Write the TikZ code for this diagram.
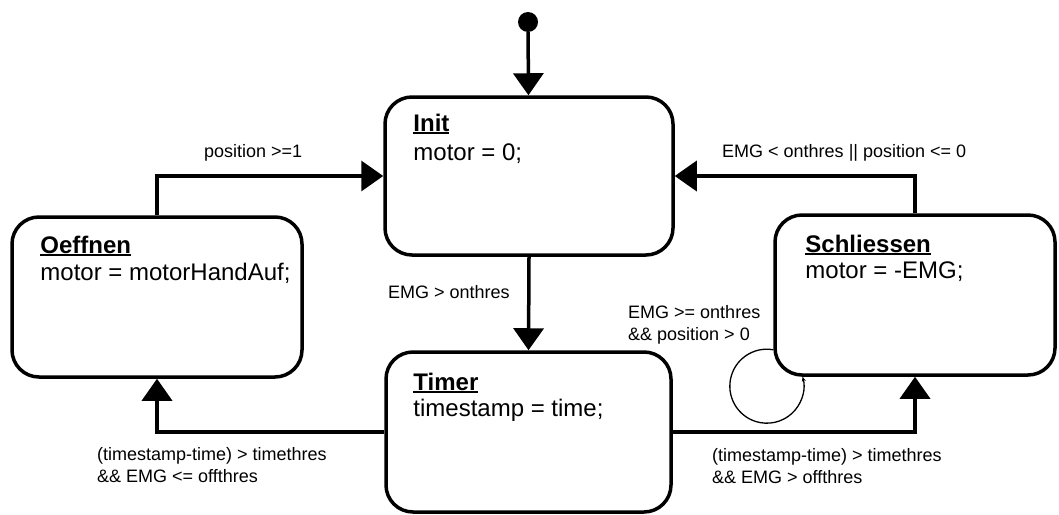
\documentclass[tikz,border=0pt]{standalone}
\usepackage{fontspec}
\setmainfont{Liberation Sans}
\usetikzlibrary{arrows.meta, positioning}

\newcommand{\statetitle}[1]{\setbox0\hbox{\bfseries #1}\rlap{\rule[-2.5pt]{\wd0}{1.8pt}}\box0}

\begin{document}
\begin{tikzpicture}[x=1pt, y=-1pt,
  statebox/.style={draw, line width=3.5pt, rounded corners=27pt, inner sep=0pt},
  statetext/.style={anchor=base west, inner sep=0pt, font=\fontsize{24}{28}\selectfont},
  guard/.style={anchor=base west, inner sep=0pt, align=left, font=\fontsize{18}{21.5}\selectfont},
  trans/.style={line width=3.5pt, -{Triangle[length=22pt, width=30pt]}},
  startdot/.style={circle, fill, inner sep=0pt, minimum size=20pt}]
\useasboundingbox (0,0) rectangle (1059,514);

\node[startdot] (start) at (528,22) {};
\node[statebox, minimum width=288pt, minimum height=158pt] (init) at (529,176) {};
\node[statebox, minimum width=290pt, minimum height=160pt] (oeffnen) at (157,297) {};
\node[statebox, minimum width=280pt, minimum height=160pt] (schliessen) at (915,295) {};
\node[statebox, minimum width=285pt, minimum height=160pt] (timer) at (528.5,432) {};

\node[statetext] (init title) at ([shift={(30pt,-36pt)}]init.north west) {\statetitle{Init}};
\node[statetext] (init body) at ([shift={(30pt,-65pt)}]init.north west) {motor = 0;};
\node[statetext] (oeffnen title) at ([shift={(30pt,-38pt)}]oeffnen.north west) {\statetitle{Oeffnen}};
\node[statetext] (oeffnen body) at ([shift={(30pt,-65pt)}]oeffnen.north west) {motor = motorHandAuf;};
\node[statetext] (schliessen title) at ([shift={(32pt,-39pt)}]schliessen.north west) {\statetitle{Schliessen}};
\node[statetext] (schliessen body) at ([shift={(32pt,-65pt)}]schliessen.north west) {motor = -EMG;};
\node[statetext] (timer title) at ([shift={(29pt,-40pt)}]timer.north west) {\statetitle{Timer}};
\node[statetext] (timer body) at ([shift={(29pt,-66pt)}]timer.north west) {timestamp = time;};

\draw[trans] (start) -- (init);
\draw[trans] (oeffnen.north) |- (init.west);
\draw[trans] (schliessen.north) |- (init.east);
\draw[trans] (init.south) -- (timer.north);
\draw[trans] (timer.west) -| (oeffnen.south);
\draw[trans] (timer.east) -| (schliessen.south);
\draw[line width=1.3pt, -{Stealth[length=5pt, width=4pt]}]
  ([yshift=27pt]schliessen.south west) arc[start angle=80, end angle=375, radius=37pt];

% two-line guards sit on the baseline of their last line
\node[guard] (g open) at (204,157) {position >=1};
\node[guard] (g close) at (722,157) {EMG < onthres || position <= 0};
\node[guard] (g timer) at (388,298) {EMG > onthres};
\node[guard] (g loop) at (628,340) {EMG >= onthres\\\&\& position > 0};
\node[guard] (g left) at (97,482) {(timestamp-time) > timethres\\\&\& EMG <= offthres};
\node[guard] (g right) at (712,483) {(timestamp-time) > timethres\\\&\& EMG > offthres};
\end{tikzpicture}
\end{document}
